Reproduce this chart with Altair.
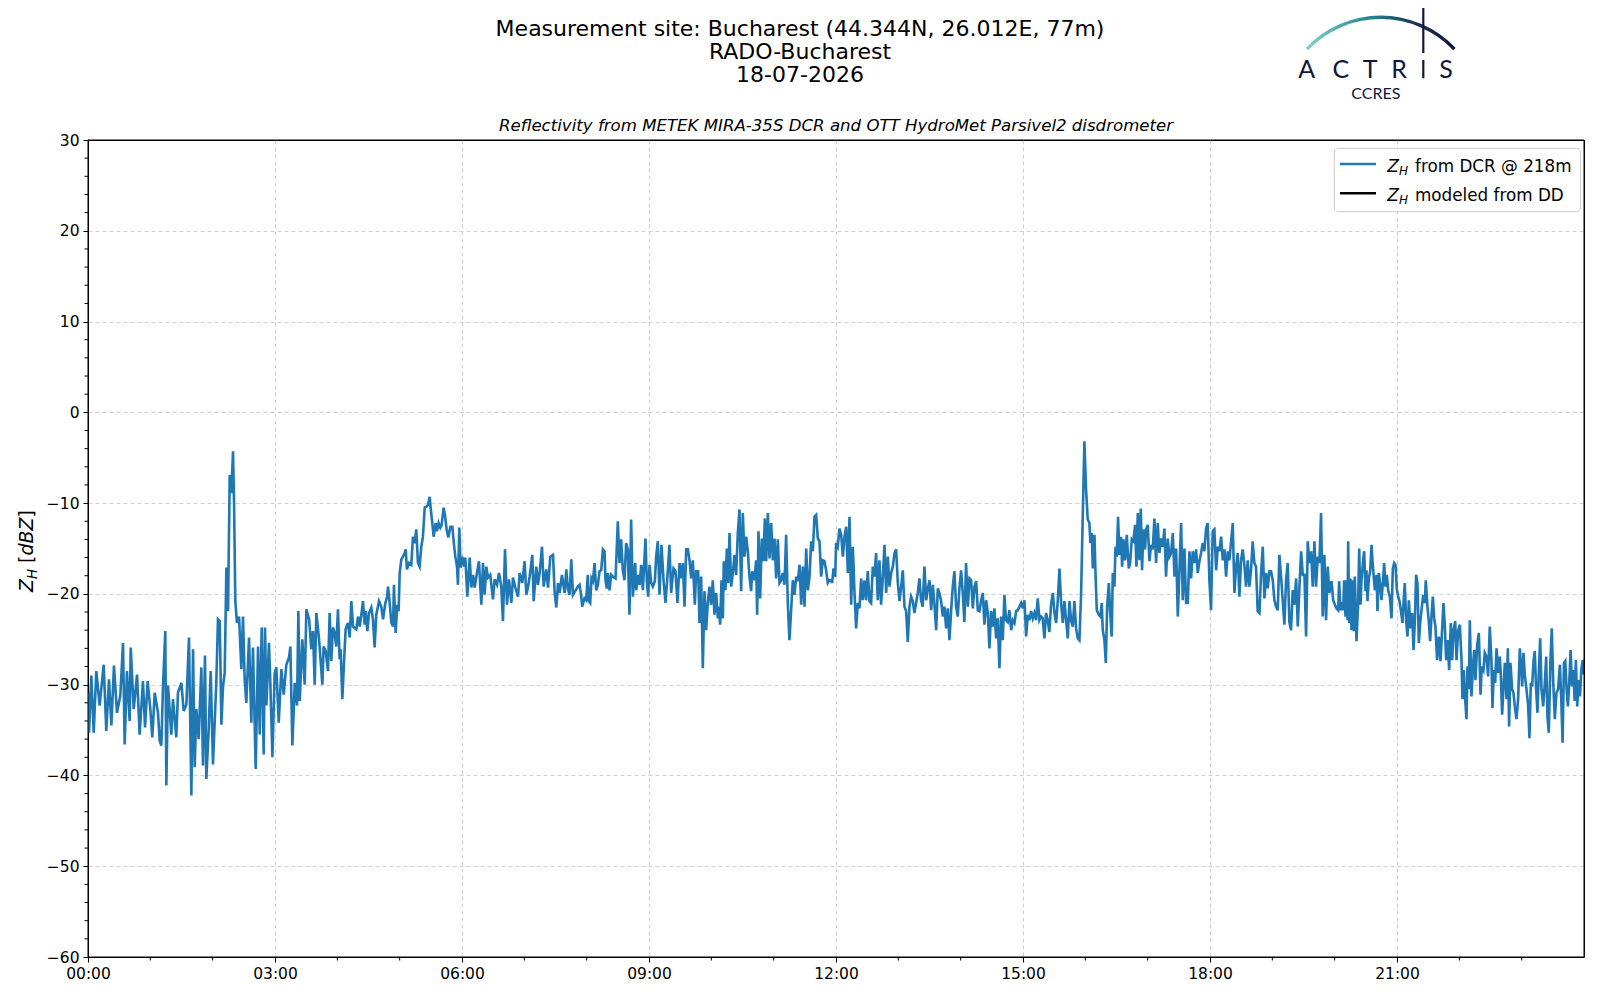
import altair as alt
import pandas as pd

# ---------------- data: (minute of day, Z_H [dBZ]) ----------------
seg_0000_0342 = [
    (0.0, -30.9), (1.0, -35.3), (3.2, -29.0), (5.5, -35.3), (8.0, -28.5), (11.2, -32.3), (15.1, -27.8),
    (17.6, -35.1), (20.2, -29.4), (22.5, -34.5), (25.0, -27.9), (27.9, -33.1), (31.1, -31.2), (33.7, -25.4),
    (35.3, -36.6), (37.5, -28.5), (40.1, -34.0), (41.1, -25.9), (44.0, -32.7), (47.2, -28.9), (49.7, -35.5),
    (52.9, -29.6), (54.9, -34.7), (57.4, -29.6), (60.0, -32.7), (61.9, -35.8), (64.2, -30.9), (67.4, -33.1),
    (69.0, -36.2), (70.6, -36.7), (72.2, -30.1), (74.4, -24.1), (75.4, -41.1), (77.0, -30.1), (80.2, -35.5),
    (81.8, -31.6), (85.0, -35.8), (86.6, -30.9), (89.9, -29.8), (92.1, -32.9), (94.7, -32.2), (97.2, -24.8),
    (99.5, -42.2), (101.1, -26.1), (102.7, -39.1), (104.3, -32.7), (106.5, -36.0), (109.1, -28.1),
    (110.7, -38.9), (112.6, -26.8), (113.9, -40.4), (116.2, -34.9), (118.1, -28.5), (120.3, -38.8),
    (122.3, -33.1), (123.5, -29.8), (125.1, -22.8), (126.8, -23.0), (128.4, -34.4), (130.0, -30.1),
    (131.6, -28.7), (133.2, -17.1), (134.8, -21.9), (136.4, -6.9), (138.0, -8.9), (139.6, -4.3),
    (140.6, -10.0), (141.8, -20.8), (143.4, -23.2), (145.4, -22.5), (147.6, -28.3), (149.2, -22.5),
    (150.8, -29.4), (152.4, -32.0), (155.0, -24.8), (157.2, -34.2), (158.8, -25.9), (161.4, -39.3),
    (163.7, -25.8), (165.3, -35.5), (167.2, -23.7), (169.1, -37.7), (170.4, -23.7), (171.7, -32.3),
    (174.2, -25.4), (175.5, -29.8), (177.5, -38.0), (179.7, -28.7), (181.3, -28.1), (183.6, -34.2),
    (186.1, -28.3), (188.4, -31.1), (190.9, -27.8), (193.5, -27.0), (194.8, -25.8), (196.7, -36.7),
    (199.0, -29.8), (201.2, -32.3), (202.5, -21.9), (203.8, -31.8), (206.3, -25.0), (208.6, -30.0),
    (210.2, -21.7), (212.8, -22.8), (215.0, -26.1), (216.6, -24.1), (218.2, -30.0), (219.8, -22.1),
    (222.4, -25.0),
]
seg_0345_0746 = [
    (225.6, -30.0), (226.8, -25.8), (228.8, -26.3), (231.0, -28.5), (232.6, -22.1), (234.2, -27.4),
    (235.8, -23.7), (237.4, -24.3), (239.0, -25.8), (240.6, -21.7), (242.2, -27.2), (243.2, -26.1),
    (244.8, -31.6), (246.4, -27.6), (248.0, -23.9), (250.3, -23.2), (251.9, -24.8), (253.5, -20.8),
    (255.1, -23.6), (258.3, -23.9), (259.9, -22.5), (261.5, -23.6), (263.1, -22.3), (264.7, -20.8),
    (266.3, -23.4), (267.3, -21.9), (268.9, -24.1), (270.5, -22.1), (272.7, -21.5), (274.3, -22.8),
    (275.9, -25.9), (277.5, -22.3), (280.1, -20.8), (282.3, -21.4), (284.0, -22.8), (286.2, -21.0),
    (287.8, -20.4), (288.8, -19.2), (290.4, -21.0), (292.0, -23.2), (293.6, -23.6), (294.5, -19.0),
    (296.1, -24.3), (297.7, -21.2), (299.0, -21.9), (300.0, -17.7), (301.6, -16.2), (303.2, -15.9),
    (304.8, -15.5), (305.8, -15.1), (307.0, -17.3), (309.0, -16.6), (311.2, -16.8), (312.8, -13.7),
    (314.4, -14.4), (316.0, -12.9), (317.6, -16.6), (319.2, -17.0), (320.8, -14.8), (322.4, -13.7),
    (324.1, -10.5), (325.7, -10.4), (327.3, -10.2), (328.9, -9.3), (329.8, -10.5), (331.4, -12.2),
    (332.7, -13.7), (334.6, -12.2), (335.9, -13.1), (337.5, -12.2), (339.1, -12.7), (340.4, -12.4),
    (342.3, -10.5), (343.6, -11.3), (345.2, -12.9), (346.8, -13.8), (348.8, -12.6), (350.7, -12.6),
    (352.3, -14.6), (353.6, -15.9), (355.2, -17.0), (356.1, -19.0), (357.4, -12.7), (358.7, -17.1),
    (360.3, -15.9), (361.9, -17.0), (363.2, -16.0), (364.2, -18.2), (365.1, -20.3), (367.4, -16.0),
    (369.0, -19.3), (370.6, -17.9), (372.2, -19.3), (373.8, -18.1), (376.3, -16.4), (378.6, -21.2),
    (380.2, -16.6), (381.8, -20.1), (383.4, -17.0), (385.0, -18.2), (387.2, -17.9), (389.8, -20.6),
    (391.4, -18.4), (393.7, -19.0), (395.6, -17.7), (397.8, -19.2), (399.4, -23.0), (401.4, -15.1),
    (403.3, -21.2), (405.2, -18.4), (407.5, -21.0), (409.1, -18.2), (411.3, -19.3), (413.9, -20.3),
    (415.5, -17.7), (418.0, -18.8), (420.3, -16.4), (421.9, -20.1), (423.5, -19.3), (425.1, -18.1),
    (427.7, -15.7), (429.0, -20.8), (431.5, -17.0), (433.1, -19.0), (434.7, -17.7), (437.0, -14.8),
    (438.6, -19.2), (441.1, -17.3), (442.8, -19.3), (445.0, -15.9), (447.6, -15.7), (449.2, -19.9),
    (450.8, -21.5), (452.4, -18.8), (454.0, -19.9), (456.2, -17.9), (458.8, -19.9), (460.4, -17.3),
    (462.0, -19.5), (463.6, -20.1), (465.2, -16.2), (466.8, -20.1),
]
seg_0751_1154 = [
    (471.5, -19.2), (473.1, -19.0), (474.7, -20.1), (475.7, -21.4), (477.9, -20.5), (479.5, -20.7),
    (481.1, -17.9), (482.1, -20.8), (483.4, -21.0), (484.7, -18.3), (486.0, -18.6), (487.6, -16.6),
    (489.2, -19.6), (490.8, -19.0), (492.4, -17.5), (494.0, -17.4), (495.6, -15.1), (497.2, -15.3),
    (498.1, -18.5), (499.4, -19.4), (500.4, -17.7), (502.0, -19.6), (503.6, -17.9), (505.2, -18.1),
    (507.8, -18.3), (510.0, -12.0), (511.6, -16.6), (513.2, -14.0), (514.8, -17.4), (516.4, -18.5),
    (518.0, -14.4), (519.6, -15.1), (521.2, -22.3), (522.8, -11.8), (524.5, -20.3), (526.7, -16.6),
    (527.7, -19.6), (529.3, -17.9), (530.9, -19.0), (532.5, -16.8), (534.1, -19.6), (536.6, -13.9),
    (537.9, -18.6), (539.2, -20.3), (540.5, -16.8), (542.1, -18.8), (543.7, -19.2), (545.6, -18.6),
    (546.9, -15.9), (548.5, -14.2), (550.1, -20.1), (552.0, -14.6), (554.0, -18.5), (555.9, -21.0),
    (557.5, -18.5), (559.7, -14.6), (561.3, -19.9), (563.6, -17.2), (565.5, -17.5), (567.4, -21.0),
    (569.4, -16.6), (571.0, -18.3), (572.6, -16.6), (574.2, -21.4), (575.8, -15.1), (577.4, -15.1),
    (579.0, -16.3), (580.6, -18.3), (582.2, -16.3), (584.1, -21.2), (585.4, -17.5), (587.3, -17.5),
    (588.6, -23.2), (590.2, -18.1), (591.8, -28.2), (593.4, -19.7), (595.0, -24.0), (596.6, -21.0),
    (598.2, -19.2), (599.8, -21.2), (601.4, -18.5), (603.0, -22.3), (604.6, -19.9), (606.3, -22.7),
    (607.2, -21.4), (608.5, -23.4), (609.8, -18.5), (611.1, -22.7), (612.0, -16.4), (613.6, -19.6),
    (614.9, -15.0), (616.2, -18.8), (617.5, -13.3), (619.1, -19.2), (620.7, -17.7), (622.3, -15.7),
    (623.9, -17.9), (625.5, -13.3), (627.1, -10.7), (628.7, -19.7), (630.3, -11.1), (631.9, -15.9),
    (633.5, -13.7), (635.1, -15.3), (636.7, -18.1), (638.3, -19.7), (639.3, -17.5), (641.5, -18.5),
    (643.1, -16.3), (644.1, -22.3), (645.4, -13.1), (647.0, -20.5), (648.6, -13.9), (650.2, -16.4),
    (651.5, -11.7), (652.8, -16.4), (654.4, -11.1), (656.0, -16.1), (657.6, -12.2), (659.2, -16.3),
    (660.8, -13.9), (662.4, -18.3), (664.0, -14.0), (665.6, -18.8), (667.2, -18.5), (668.8, -17.7),
    (670.4, -19.0), (672.0, -13.5), (673.6, -21.0), (675.2, -25.1), (676.8, -21.8), (678.4, -18.5),
    (680.0, -20.1), (681.7, -18.1), (683.3, -18.6), (684.9, -16.8), (686.5, -21.2), (688.1, -17.0),
    (689.7, -21.4), (691.3, -15.0), (692.9, -19.6), (694.5, -18.1), (696.1, -14.2), (697.7, -15.3),
    (699.3, -11.5), (700.9, -11.3), (702.5, -13.9), (704.1, -14.2), (705.7, -18.1), (707.3, -16.3),
    (708.9, -16.4), (710.5, -17.4), (712.1, -18.8), (713.7, -18.5),
]
seg_1155_1553 = [
    (715.3, -18.5), (716.3, -18.8), (717.6, -17.2), (719.2, -18.1), (720.1, -14.4), (721.7, -14.8),
    (723.3, -12.8), (725.0, -13.5), (726.6, -15.9), (728.2, -13.7), (729.8, -12.6), (731.4, -17.7),
    (733.0, -11.5), (734.6, -21.2), (736.2, -14.8), (737.8, -19.9), (739.4, -23.8), (741.0, -21.0),
    (742.6, -21.6), (744.2, -18.3), (745.8, -20.7), (747.4, -18.5), (749.0, -20.7), (750.6, -17.5),
    (752.2, -20.8), (753.8, -21.0), (755.4, -17.0), (757.0, -18.1), (758.6, -15.5), (760.2, -20.7),
    (761.8, -16.3), (763.4, -21.2), (765.1, -18.1), (766.7, -14.6), (768.3, -19.9), (769.9, -15.9),
    (771.5, -19.2), (773.1, -17.7), (774.7, -17.0), (776.3, -15.5), (777.9, -15.1), (779.5, -18.8),
    (781.1, -20.8), (782.7, -19.2), (784.3, -17.4), (785.9, -21.4), (787.5, -21.9), (789.1, -25.3),
    (790.7, -21.4), (792.3, -20.3), (793.9, -20.8), (795.5, -22.1), (797.1, -21.0), (798.7, -19.9),
    (800.3, -18.3), (801.9, -20.7), (803.5, -21.4), (805.1, -17.0), (806.8, -20.7), (808.4, -19.4),
    (810.0, -18.5), (811.6, -21.8), (813.2, -19.0), (814.8, -21.2), (816.4, -24.0), (818.0, -19.4),
    (819.6, -19.9), (821.2, -20.8), (822.8, -22.5), (824.4, -21.4), (826.0, -23.8), (827.6, -21.6),
    (829.2, -25.1), (830.8, -21.9), (832.4, -19.2), (834.0, -17.5), (835.6, -21.4), (837.2, -22.5),
    (838.8, -19.4), (840.4, -17.4), (842.0, -19.9), (843.6, -23.1), (845.2, -16.6), (846.9, -21.4),
    (848.5, -18.3), (850.1, -18.5), (851.7, -21.6), (853.3, -19.2), (854.9, -18.6), (856.5, -21.8),
    (858.1, -21.9), (859.7, -20.7), (861.3, -19.9), (862.9, -23.4), (864.5, -20.7), (866.1, -22.1),
    (867.7, -26.0), (869.3, -21.9), (870.9, -23.6), (872.5, -21.6), (874.1, -24.9), (875.7, -22.7),
    (877.3, -28.2), (878.9, -22.5), (880.5, -25.1), (882.1, -20.1), (883.7, -22.9), (885.3, -23.1),
    (886.9, -21.8), (888.6, -24.0), (890.2, -22.9), (891.8, -23.2), (893.4, -21.9), (895.0, -21.8),
    (896.6, -21.4), (898.2, -21.0), (899.8, -21.6), (901.4, -20.7), (903.0, -24.7), (904.6, -22.3),
    (906.2, -22.9), (907.8, -21.9), (909.4, -22.7), (911.0, -22.1), (912.6, -22.9), (914.2, -20.5),
    (915.8, -22.9), (917.4, -22.5), (919.0, -22.7), (920.6, -24.9), (922.2, -22.1), (923.8, -22.9),
    (925.4, -24.2), (927.0, -21.2), (928.7, -19.9), (930.3, -22.1), (931.9, -23.2), (933.5, -20.7),
    (935.1, -17.2), (936.7, -21.0), (938.3, -23.2), (939.9, -20.8), (941.5, -22.9), (943.1, -24.9),
    (944.7, -20.8), (946.3, -22.9), (947.9, -23.6), (949.5, -20.8), (951.1, -23.8), (952.7, -24.9),
]
seg_1554_1955 = [
    (954.3, -25.1), (955.9, -20.1), (957.5, -11.5), (959.1, -3.2), (960.7, -8.5), (962.3, -11.8),
    (963.9, -12.2), (964.9, -14.4), (966.2, -13.3), (967.2, -17.2), (968.8, -13.5), (969.7, -17.4),
    (971.0, -21.8), (973.0, -22.3), (974.5, -22.5), (975.8, -21.0), (976.8, -24.0), (978.4, -25.1),
    (979.7, -27.6), (981.0, -21.4), (982.6, -18.8), (983.8, -21.8), (985.4, -24.7), (986.4, -17.7),
    (988.0, -19.2), (989.0, -14.8), (990.3, -15.9), (991.5, -11.5), (992.8, -15.7), (994.4, -13.7),
    (995.4, -17.0), (996.7, -14.0), (998.3, -16.3), (999.9, -13.5), (1001.8, -17.2), (1003.1, -16.6),
    (1004.7, -14.0), (1006.3, -14.2), (1007.9, -12.4), (1009.2, -17.0), (1010.5, -11.1), (1012.1, -16.3),
    (1013.4, -10.6), (1014.6, -17.4), (1015.9, -12.9), (1017.5, -15.1), (1018.5, -12.9), (1020.1, -12.4),
    (1021.7, -16.4), (1023.3, -14.6), (1024.9, -15.1), (1026.5, -11.7), (1028.1, -16.6), (1029.7, -12.2),
    (1031.3, -15.5), (1032.9, -13.9), (1034.5, -14.8), (1036.1, -12.8), (1037.7, -18.1), (1039.3, -13.9),
    (1040.9, -15.9), (1042.5, -15.5), (1044.2, -13.3), (1045.8, -18.1), (1047.4, -15.0), (1049.0, -22.5),
    (1050.6, -17.4), (1052.2, -12.2), (1053.8, -20.7), (1055.4, -15.0), (1057.0, -21.0), (1058.6, -21.0),
    (1060.2, -15.3), (1061.8, -18.3), (1063.4, -15.3), (1065.0, -16.6), (1066.6, -15.1), (1068.2, -17.7),
    (1069.8, -16.4), (1071.4, -15.5), (1073.0, -14.4), (1074.6, -15.3), (1076.2, -12.8), (1077.8, -12.2),
    (1079.4, -18.5), (1081.0, -21.8), (1082.6, -13.1), (1084.2, -12.9), (1085.9, -17.4), (1087.5, -14.8),
    (1089.1, -15.3), (1090.7, -13.7), (1092.3, -16.3), (1093.9, -15.1), (1095.5, -18.1), (1097.1, -15.3),
    (1098.7, -16.3), (1100.3, -14.2), (1101.9, -12.2), (1103.5, -19.9), (1105.1, -17.0), (1106.7, -15.5),
    (1108.3, -20.3), (1109.9, -16.3), (1111.5, -15.1), (1113.1, -16.8), (1114.7, -19.2), (1116.3, -16.3),
    (1117.9, -19.2), (1119.5, -17.4), (1121.1, -14.2), (1122.7, -16.6), (1124.3, -17.0), (1125.9, -21.9),
    (1127.6, -22.1), (1129.2, -17.7), (1130.8, -14.8), (1132.4, -20.5), (1134.0, -17.7), (1135.6, -19.4),
    (1137.2, -17.5), (1138.8, -17.5), (1140.4, -18.5), (1142.0, -20.7), (1143.6, -21.4), (1145.2, -21.8),
    (1146.8, -15.7), (1148.4, -18.1), (1150.0, -20.7), (1151.6, -23.4), (1153.2, -18.5), (1154.8, -16.6),
    (1156.4, -23.1), (1158.0, -24.0), (1159.6, -19.6), (1161.2, -21.2), (1162.9, -18.3), (1164.5, -23.6),
    (1166.1, -19.2), (1167.7, -15.3), (1169.3, -17.9), (1170.9, -17.9), (1172.5, -24.7), (1174.1, -14.2),
    (1175.7, -16.6), (1177.3, -15.3), (1178.9, -19.2), (1180.5, -14.2), (1182.1, -19.2), (1183.7, -15.9),
    (1185.3, -16.6), (1186.9, -11.1), (1188.5, -22.5), (1190.1, -15.7), (1191.7, -22.9), (1193.3, -17.0),
    (1194.9, -19.9),
]
seg_1957_2400 = [
    (1197.0, -18.6), (1198.6, -20.7), (1200.2, -21.2), (1201.8, -21.6), (1203.4, -21.8), (1204.3, -18.6),
    (1205.6, -21.8), (1206.6, -20.9), (1208.2, -21.8), (1209.1, -18.5), (1210.4, -22.5), (1211.4, -18.5),
    (1212.4, -22.9), (1213.0, -14.2), (1214.0, -23.2), (1215.2, -18.3), (1216.2, -24.0), (1217.2, -18.5),
    (1218.5, -24.1), (1219.4, -18.1), (1221.0, -25.2), (1222.6, -21.0), (1223.6, -15.0), (1224.9, -21.2),
    (1225.8, -18.5), (1227.4, -16.3), (1228.4, -15.3), (1229.7, -19.7), (1230.6, -17.4), (1231.6, -20.8),
    (1232.9, -18.3), (1234.2, -17.5), (1235.5, -14.6), (1236.4, -16.3), (1237.7, -18.3), (1238.7, -19.6),
    (1240.3, -17.9), (1241.2, -21.9), (1242.5, -17.7), (1243.8, -19.0), (1245.1, -20.7), (1246.7, -18.3),
    (1247.6, -16.6), (1248.9, -19.2), (1250.2, -17.9), (1251.5, -19.6), (1253.1, -20.3), (1254.7, -22.7),
    (1256.0, -17.2), (1257.3, -16.6), (1258.6, -16.8), (1259.8, -19.4), (1261.1, -20.3), (1262.4, -20.8),
    (1263.7, -21.8), (1265.3, -23.2), (1266.6, -20.3), (1267.5, -18.8), (1268.8, -22.9), (1270.1, -24.7),
    (1271.4, -20.7), (1273.0, -23.8), (1274.6, -22.1), (1275.9, -26.2), (1277.2, -22.9), (1278.4, -17.9),
    (1279.7, -18.8), (1281.0, -25.4), (1282.3, -23.2), (1283.6, -21.8), (1285.2, -20.1), (1286.8, -21.0),
    (1287.7, -18.5), (1289.3, -21.4), (1290.6, -23.0), (1291.9, -25.2), (1293.2, -22.5), (1294.5, -20.3),
    (1295.8, -22.7), (1297.0, -23.6), (1298.6, -27.3), (1300.3, -24.7), (1301.9, -27.4), (1303.1, -24.7),
    (1304.7, -21.0), (1306.0, -23.4), (1307.3, -27.3), (1308.6, -25.1), (1310.2, -28.4), (1311.8, -23.2),
    (1313.1, -27.3), (1314.4, -24.0), (1316.0, -23.0), (1317.3, -27.3), (1318.9, -24.0), (1320.5, -23.4),
    (1322.1, -27.3), (1323.0, -31.6), (1324.3, -28.4), (1325.6, -31.6), (1326.9, -33.8), (1327.8, -28.0),
    (1329.1, -30.5), (1330.1, -22.9), (1331.7, -31.3), (1333.0, -28.2), (1334.3, -26.2), (1335.5, -29.5),
    (1337.2, -25.6), (1338.8, -24.3), (1340.4, -31.1), (1341.6, -28.0), (1343.2, -28.4), (1344.5, -26.5),
    (1346.1, -26.9), (1347.7, -29.1), (1349.3, -23.6), (1350.9, -27.3), (1351.9, -32.6), (1353.2, -28.4),
    (1354.5, -29.8), (1355.8, -26.0), (1357.4, -28.7), (1359.0, -26.9), (1359.9, -28.9), (1361.2, -33.3),
    (1362.5, -30.2), (1363.8, -27.6), (1365.4, -31.6), (1366.7, -26.0), (1367.9, -34.6), (1369.2, -27.6),
    (1370.8, -30.5), (1372.1, -30.9), (1373.4, -32.4), (1375.0, -33.8), (1376.6, -31.6), (1378.2, -26.0),
    (1379.2, -27.6), (1380.5, -30.2), (1381.7, -26.5), (1383.0, -28.9), (1384.6, -30.5), (1386.2, -32.2),
    (1387.5, -35.9), (1388.8, -29.8), (1390.1, -30.2), (1391.4, -27.4), (1392.6, -26.3), (1393.9, -30.5),
    (1395.2, -33.1), (1396.5, -28.7), (1397.8, -24.9), (1399.1, -30.5), (1400.7, -32.4), (1402.3, -29.8),
    (1403.6, -26.9), (1404.8, -33.5), (1406.1, -35.3), (1407.7, -27.3), (1409.0, -23.8), (1410.3, -29.5),
    (1411.9, -33.8), (1413.5, -30.9), (1415.1, -30.5), (1416.8, -27.8), (1418.1, -31.6), (1419.4, -36.4),
    (1420.7, -27.6), (1422.0, -27.4), (1423.3, -30.7), (1424.5, -32.4), (1425.8, -29.8), (1427.1, -26.2),
    (1428.4, -30.2), (1429.7, -28.4), (1431.0, -31.8), (1432.2, -27.3), (1433.5, -32.4), (1434.8, -29.5),
    (1436.1, -31.3), (1437.4, -28.4), (1438.7, -27.3), (1440.0, -28.9),
]

samples = seg_0000_0342 + seg_0345_0746 + seg_0751_1154 + seg_1155_1553 + seg_1554_1955 + seg_1957_2400
minutes = [m for m, _ in samples]
zh_dcr = [v for _, v in samples]

x_major = [0, 180, 360, 540, 720, 900, 1080, 1260]
x_minor = [60, 120, 240, 300, 420, 480, 600, 660, 780, 840, 960, 1020, 1140, 1200, 1320, 1380]
y_major = [-60, -50, -40, -30, -20, -10, 0, 10, 20, 30]
y_minor = [v for v in range(-58, 30, 2) if v % 10 != 0]

title_lines = ["Measurement site: Bucharest (44.344N, 26.012E, 77m)", "RADO-Bucharest", "18-07-2026"]
subtitle = "Reflectivity from METEK MIRA-35S DCR and OTT HydroMet Parsivel2 disdrometer"
legend_labels = ["from DCR @ 218m", "modeled from DD"]
legend_colors = ["#1f77b4", "black"]

# ---------------- chart ----------------
W, H = 1496, 817
FONT = "DejaVu Sans"
NAVY = "#10163a"

df = pd.DataFrame({"minute": minutes, "zh": zh_dcr})
xs = alt.Scale(domain=[0, 1440], nice=False, zero=False)
ys = alt.Scale(domain=[-60, 30], nice=False, zero=False)

axis_common = dict(
    title=None, domain=False, grid=True, gridColor="#d0d0d0", gridDash=[4, 3], gridWidth=1,
    tickColor="black", tickSize=5, tickWidth=1, labelFont=FONT, labelFontSize=15.5,
    labelColor="black", labelPadding=4, labelOverlap=False, labelFlush=False, labelBound=False,
)
x_axis = alt.Axis(
    values=x_major,
    labelExpr="(datum.value < 600 ? '0' : '') + floor(datum.value / 60) + ':00'",
    gridOpacity={"condition": {"test": "datum.value <= 0", "value": 0}, "value": 1},
    **axis_common)
y_axis = alt.Axis(
    values=y_major, format="d",
    gridOpacity={"condition": {"test": "datum.value <= -60 || datum.value >= 30", "value": 0}, "value": 1},
    **axis_common)

line = alt.Chart(df).mark_line(color="#1f77b4", strokeWidth=2.6, clip=True).encode(
    x=alt.X("minute:Q", scale=xs, axis=x_axis),
    y=alt.Y("zh:Q", scale=ys, axis=y_axis),
)

xminor = alt.Chart(pd.DataFrame({"minute": x_minor})).mark_rule(color="black", strokeWidth=1).encode(
    x=alt.X("minute:Q", scale=xs, axis=x_axis), y=alt.value(H), y2=alt.value(H + 3.5))
yminor = alt.Chart(pd.DataFrame({"zh": y_minor})).mark_rule(color="black", strokeWidth=1).encode(
    y=alt.Y("zh:Q", scale=ys, axis=y_axis), x=alt.value(0), x2=alt.value(-3.5))

ONE = alt.Data(values=[{}])


def txt(s, x, y, size, style="normal", align="left", angle=0, color="black", font=FONT, weight="normal"):
    return alt.Chart(ONE).mark_text(
        text=s, font=font, fontSize=size, fontStyle=style, fontWeight=weight, align=align,
        baseline="alphabetic", angle=angle, color=color,
    ).encode(x=alt.value(x), y=alt.value(y))


def rule(x, x2, y, y2, color="black", width=1.0):
    enc = dict(x=alt.value(x), y=alt.value(y))
    if x2 is not None:
        enc["x2"] = alt.value(x2)
    if y2 is not None:
        enc["y2"] = alt.value(y2)
    return alt.Chart(ONE).mark_rule(color=color, strokeWidth=width).encode(**enc)


layers = [line, xminor, yminor]

# solid plot frame (spines)
layers += [
    rule(0, None, 0, H), rule(W, None, 0, H), rule(0, W, 0, None), rule(0, W, H, None),
]

# titles
for s, yy in zip(title_lines, [-104, -80.7, -58.3]):
    layers.append(txt(s, 712, yy, 22, align="center"))
layers.append(txt(subtitle, W / 2, -8.6, 16.6, style="italic", align="center"))

# y axis label  Z_H [dBZ]
layers += [
    txt("Z", -55, 452, 19, style="italic", angle=270),
    txt("H", -51, 439, 13.3, style="italic", angle=270),
    txt("[", -55, 423, 19, angle=270),
    txt("dBZ", -55, 415.6, 19, style="italic", angle=270),
    txt("]", -55, 377.5, 19, angle=270),
]

# legend
layers.append(alt.Chart(ONE).mark_rect(
    fill="white", fillOpacity=0.8, stroke="#cccccc", strokeWidth=1, cornerRadius=4
).encode(x=alt.value(1246.3), x2=alt.value(1492.5), y=alt.value(8.3), y2=alt.value(71.7)))
for i, (lab, col) in enumerate(zip(legend_labels, legend_colors)):
    yl = 24 + i * 29.3
    layers.append(rule(1252, 1288, yl, None, color=col, width=2.6))
    layers.append(txt("Z", 1299.3, yl + 7.5, 17, style="italic"))
    layers.append(txt("H", 1310.9, yl + 11, 12, style="italic"))
    layers.append(txt(lab, 1327, yl + 7.5, 16.8))

# ACTRIS / CCRES logo
arc_fill = alt.LinearGradient(
    gradient="linear", x1=0, y1=0, x2=1, y2=0,
    stops=[alt.GradientStop(offset=0, color="#86d3cb"), alt.GradientStop(offset=0.45, color="#22808f"),
           alt.GradientStop(offset=0.75, color="#1b2f52"), alt.GradientStop(offset=1, color=NAVY)])
layers.append(alt.Chart(ONE).mark_arc(
    theta=5.467, theta2=7.099, radius=103, radius2=99.6, fill=arc_fill
).encode(x=alt.value(1292.7), y=alt.value(-21.4)))
layers.append(rule(1335.3, None, -138.3, -87, color=NAVY, width=2.2))
layers.append(rule(1335.3, None, -80, -61.7, color=NAVY, width=2.2))
for letter, lx in zip(["A", "C", "T", "R", "S"], [1218.7, 1252.8, 1282, 1311, 1358]):
    layers.append(txt(letter, lx, -61.7, 25, align="center", color=NAVY, font="Lato"))
layers.append(txt("CCRES", 1287.8, -41, 16, align="center", color=NAVY, font="Lato"))

chart = alt.layer(*layers).properties(
    width=W, height=H,
    autosize=alt.AutoSizeParams(type="none"),
    padding={"left": 80, "top": 132, "right": 8, "bottom": 40},
).configure_view(stroke="black", strokeWidth=1)

chart.save("out.html", embed_options={"renderer": "svg", "actions": False})
